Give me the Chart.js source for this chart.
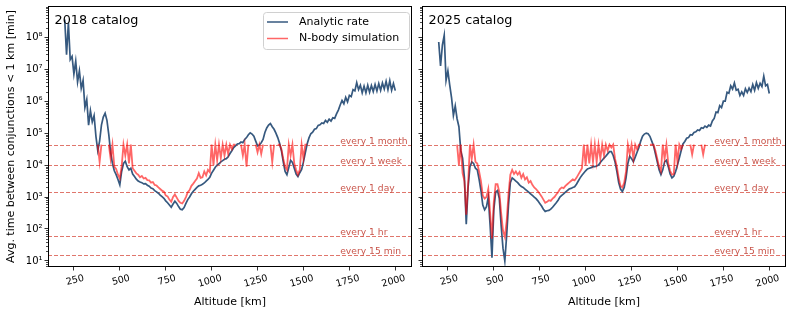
<!DOCTYPE html>
<html>
<head>
<meta charset="utf-8">
<script src="https://cdn.jsdelivr.net/npm/chart.js@4.4.1/dist/chart.umd.min.js"></script>
<style>
  body { margin: 0; background: #fff; }
  #wrap { position: relative; width: 793px; height: 315px; }
  canvas { position: absolute; top: 0; }
</style>
</head>
<body>
<div id="wrap">
  <canvas id="left" width="416" height="315" style="left:0"></canvas>
  <canvas id="right" width="377" height="315" style="left:416px"></canvas>
</div>
<script>
// altitude bins [km]
const altitudes = [
  200, 210, 220, 230, 240, 250, 260, 270, 280, 290,
  300, 310, 320, 330, 340, 350, 360, 370, 380, 390,
  400, 410, 420, 430, 440, 450, 460, 470, 480, 490,
  500, 510, 520, 530, 540, 550, 560, 570, 580, 590,
  600, 610, 620, 630, 640, 650, 660, 670, 680, 690,
  700, 710, 720, 730, 740, 750, 760, 770, 780, 790,
  800, 810, 820, 830, 840, 850, 860, 870, 880, 890,
  900, 910, 920, 930, 940, 950, 960, 970, 980, 990,
  1000, 1010, 1020, 1030, 1040, 1050, 1060, 1070, 1080, 1090,
  1100, 1110, 1120, 1130, 1140, 1150, 1160, 1170, 1180, 1190,
  1200, 1210, 1220, 1230, 1240, 1250, 1260, 1270, 1280, 1290,
  1300, 1310, 1320, 1330, 1340, 1350, 1360, 1370, 1380, 1390,
  1400, 1410, 1420, 1430, 1440, 1450, 1460, 1470, 1480, 1490,
  1500, 1510, 1520, 1530, 1540, 1550, 1560, 1570, 1580, 1590,
  1600, 1610, 1620, 1630, 1640, 1650, 1660, 1670, 1680, 1690,
  1700, 1710, 1720, 1730, 1740, 1750, 1760, 1770, 1780, 1790,
  1800, 1810, 1820, 1830, 1840, 1850, 1860, 1870, 1880, 1890,
  1900, 1910, 1920, 1930, 1940, 1950, 1960, 1970, 1980, 1990,
  2000
];

// log10 of avg. time between conjunctions [min], one row per 100 km
const log10Analytic2018 = [
  8.55, 7.45, 8.45, 7.30, 7.40, 6.85, 7.25, 6.60, 6.95, 6.40,
  6.65, 5.80, 6.05, 5.25, 5.70, 5.35, 5.55, 4.90, 4.45, 4.75,
  5.25, 5.50, 5.62, 5.40, 4.95, 4.40, 4.05, 3.82, 3.70, 3.55,
  3.38, 3.80, 4.05, 4.12, 3.95, 3.85, 3.90, 3.72, 3.64, 3.56,
  3.50, 3.47, 3.45, 3.41, 3.42, 3.37, 3.34, 3.28, 3.26, 3.20,
  3.16, 3.12, 3.06, 3.01, 2.96, 2.88, 2.82, 2.75, 2.68, 2.78,
  2.87, 2.80, 2.70, 2.62, 2.60, 2.67, 2.80, 2.92, 3.00, 3.10,
  3.18, 3.24, 3.30, 3.35, 3.37, 3.40, 3.44, 3.50, 3.55, 3.62,
  3.75, 3.84, 3.93, 4.00, 4.04, 4.10, 4.14, 4.18, 4.20, 4.26,
  4.36, 4.45, 4.55, 4.60, 4.66, 4.67, 4.72, 4.70, 4.80, 4.86,
  4.95, 5.01, 4.97, 4.90, 4.75, 4.60, 4.63, 4.70, 4.80, 5.02,
  5.16, 5.25, 5.30, 5.20, 5.12, 5.00, 4.86, 4.68, 4.45, 4.10,
  3.80, 3.70, 3.92, 4.15, 4.08, 3.90, 3.72, 3.64, 3.76, 3.86,
  4.10, 4.38, 4.66, 4.85, 4.98, 5.03, 5.12, 5.14, 5.24, 5.26,
  5.32, 5.30, 5.40, 5.34, 5.44, 5.38, 5.48, 5.46, 5.60, 5.72,
  5.88, 6.02, 5.92, 6.12, 5.98, 6.18, 6.14, 6.36, 6.32, 6.58,
  6.36, 6.50, 6.26, 6.47, 6.26, 6.50, 6.28, 6.49, 6.30, 6.52,
  6.32, 6.55, 6.34, 6.57, 6.38, 6.62, 6.36, 6.64, 6.34, 6.55,
  6.33
];

const log10NBody2018 = [
  null, null, null, null, null, null, null, null, null, null,
  null, null, null, null, null, null, null, null, 4.64, 4.10,
  4.64, null, null, null, 4.64, 4.20, 4.64, 3.95, 3.88, 3.70,
  3.58, 3.95, 4.64, 4.30, 4.64, 4.05, 4.64, 3.90, 3.82, 3.74,
  3.70, 3.62, 3.66, 3.58, 3.60, 3.53, 3.52, 3.45, 3.47, 3.38,
  3.36, 3.30, 3.25, 3.20, 3.17, 3.05, 3.02, 2.92, 2.85, 3.00,
  3.08, 2.98, 2.88, 2.82, 2.80, 2.88, 3.00, 3.15, 3.22, 3.35,
  3.42, 3.50, 3.58, 3.75, 3.60, 3.62, 3.80, 3.68, 3.85, 3.78,
  4.64, 4.00, 4.64, 4.15, 4.64, 4.22, 4.64, 4.30, 4.64, 4.35,
  4.64, 4.50, 4.64, 4.64, null, null, 4.64, 4.30, 4.64, 3.95,
  4.64, null, null, null, 4.64, 4.40, 4.64, 4.35, 4.64, null,
  null, null, 4.64, 4.10, 4.64, null, 4.64, 4.64, 4.50, 4.20,
  3.95, 3.85, 4.64, 4.30, 4.64, 4.05, 3.85, 3.70, 3.85, 4.64,
  4.20, 4.64, 4.64, null, null, null, null, null, null, null,
  null, null, null, null, null, null, null, null, null, null,
  null, null, null, null, null, null, null, null, null, null,
  null, null, null, null, null, null, null, null, null, null,
  null, null, null, null, null, null, null, null, null, null,
  null
];

const log10Analytic2025 = [
  7.85, 7.10, 7.75, 8.06, 6.65, 6.95, 6.50, 6.10, 5.55, 5.85,
  5.45, 5.20, 4.45, 4.22, 3.60, 2.15, 3.30, 3.95, 4.10, 4.05,
  3.90, 3.85, 3.55, 3.20, 2.75, 2.60, 2.70, 3.00, 2.10, 1.10,
  2.60, 3.15, 3.20, 2.95, 2.10, 1.40, 1.00, 1.80, 2.75, 3.45,
  3.60, 3.55, 3.50, 3.45, 3.38, 3.33, 3.30, 3.25, 3.20, 3.15,
  3.10, 3.05, 3.00, 2.95, 2.88, 2.80, 2.72, 2.62, 2.55, 2.57,
  2.58, 2.62, 2.68, 2.75, 2.82, 2.90, 3.00, 3.05, 3.10, 3.15,
  3.20, 3.25, 3.27, 3.30, 3.32, 3.40, 3.50, 3.60, 3.68, 3.75,
  3.82, 3.88, 3.90, 3.92, 3.95, 3.95, 3.97, 4.00, 4.08, 4.15,
  4.22, 4.28, 4.35, 4.42, 4.42, 4.30, 4.10, 3.80, 3.45, 3.25,
  3.17, 3.30, 3.60, 4.05, 4.28, 4.20, 4.10, 4.25, 4.40, 4.55,
  4.75, 4.90, 4.97, 5.00, 4.98, 4.90, 4.75, 4.60, 4.35, 4.10,
  3.85, 3.70, 3.85, 4.10, 4.15, 3.95, 3.72, 3.60, 3.65, 3.80,
  4.00, 4.22, 4.45, 4.66, 4.74, 4.84, 4.86, 4.95, 4.94, 5.02,
  5.04, 5.10, 5.08, 5.17, 5.15, 5.22, 5.18, 5.25, 5.22, 5.38,
  5.46, 5.66, 5.64, 5.86, 5.80, 6.00, 6.00, 6.28, 6.25, 6.48,
  6.38, 6.57, 6.34, 6.37, 6.18, 6.29, 6.18, 6.39, 6.27, 6.41,
  6.30, 6.52, 6.34, 6.58, 6.40, 6.56, 6.46, 6.78, 6.48, 6.52,
  6.24
];

const log10NBody2025 = [
  null, null, null, null, null, null, null, null, null, null,
  4.64, 4.00, 4.64, 3.75, 3.50, 2.45, 3.40, 4.64, 4.20, 4.64,
  4.10, 4.05, 3.80, 3.50, 3.05, 2.95, 3.00, 3.25, 2.50, 1.70,
  2.85, 3.40, 3.40, 3.15, 2.50, 1.95, 1.75, 2.25, 3.10, 3.70,
  3.85, 3.72, 3.80, 3.70, 3.78, 3.60, 3.72, 3.55, 3.62, 3.45,
  3.50, 3.38, 3.30, 3.25, 3.18, 3.10, 3.02, 2.92, 2.82, 2.85,
  2.90, 2.88, 2.95, 3.00, 3.08, 3.15, 3.25, 3.30, 3.28, 3.35,
  3.40, 3.45, 3.50, 3.55, 3.52, 3.60, 3.70, 3.80, 3.90, 4.64,
  4.00, 4.64, 4.05, 4.64, 4.10, 4.64, 4.10, 4.64, 4.20, 4.64,
  4.30, 4.64, 4.45, 4.64, 4.55, 4.64, 4.20, 3.95, 3.60, 3.35,
  3.30, 3.45, 3.80, 4.64, 4.35, 4.64, 4.20, 4.64, 4.50, 4.64,
  4.64, null, null, null, null, 4.64, 4.64, 4.64, 4.45, 4.20,
  3.95, 3.80, 4.64, 4.20, 4.64, 4.05, 3.82, 3.70, 3.72, 4.64,
  4.10, 4.64, 4.50, 4.64, null, null, null, 4.64, 4.33, 4.64,
  null, null, null, 4.64, 4.33, 4.64, null, null, null, null,
  null, null, null, null, null, null, null, null, null, null,
  null, null, null, null, null, null, null, null, null, null,
  null, null, null, null, null, null, null, null, null, null,
  null
];

const altitudeTicks = [250, 500, 750, 1000, 1250, 1500, 1750, 2000];
const cadenceMinutes = [43200, 10080, 1440, 60, 15];
const cadenceLabels = ['every 1 month', 'every 1 week', 'every 1 day', 'every 1 hr', 'every 15 min'];
const cadenceLabelAlt = 1700;

const FONT = 'DejaVu Sans';
const BLUE = '#36597f';
const RED = 'rgba(255, 0, 0, 0.6)';
const LINE_RED = '#e0766c';
const TEXT_RED = '#c9564c';
const SUPS = '⁰¹²³⁴⁵⁶⁷⁸⁹';

function toPoints(logs) {
  return altitudes.map((a, i) => ({ x: a, y: logs[i] == null ? null : Math.pow(10, logs[i]) }));
}

function isPow10(v) {
  const e = Math.round(Math.log10(v));
  return Math.abs(v - Math.pow(10, e)) < 1e-6 * v;
}

function zeroPad(s) {
  s.paddingTop = 0; s.paddingBottom = 0; s.paddingLeft = 0; s.paddingRight = 0;
}

const panelPlugin = {
  id: 'panel',
  beforeDatasetsDraw(chart) {
    const { ctx, chartArea: a, scales: { x, y } } = chart;
    ctx.save();
    ctx.beginPath();
    ctx.rect(a.left, a.top, a.width, a.height);
    ctx.clip();
    ctx.lineWidth = 1;
    ctx.setLineDash([4, 2]);
    ctx.strokeStyle = LINE_RED;
    ctx.fillStyle = TEXT_RED;
    ctx.font = '9.2px ' + FONT;
    ctx.textBaseline = 'alphabetic';
    cadenceMinutes.forEach((m, i) => {
      const py = Math.round(y.getPixelForValue(m)) + 0.5;
      ctx.beginPath();
      ctx.moveTo(a.left, py);
      ctx.lineTo(a.right, py);
      ctx.stroke();
      ctx.fillText(cadenceLabels[i], x.getPixelForValue(cadenceLabelAlt), py - 1.5);
    });
    ctx.restore();
  },
  afterDraw(chart, args, opts) {
    const { ctx, chartArea: a, scales: { y } } = chart;
    ctx.save();
    // minor y ticks, shorter than the major ones
    ctx.strokeStyle = '#000';
    ctx.lineWidth = 0.7;
    y.ticks.forEach(t => {
      if (isPow10(t.value)) return;
      const py = Math.round(y.getPixelForValue(t.value)) + 0.5;
      ctx.beginPath();
      ctx.moveTo(a.left - 2, py);
      ctx.lineTo(a.left, py);
      ctx.stroke();
    });
    // frame
    ctx.lineWidth = 1;
    ctx.strokeRect(Math.round(a.left) + 0.5, Math.round(a.top) + 0.5,
      Math.round(a.width) - 1, Math.round(a.height) - 1);
    // panel title
    ctx.fillStyle = '#000';
    ctx.font = '12.8px ' + FONT;
    ctx.textBaseline = 'alphabetic';
    ctx.fillText(opts.title, a.left + 6.5, a.top + 17.5);
    // legend
    if (opts.legend) {
      const bx = a.right - 149, by = a.top + 6, bw = 146, bh = 37;
      ctx.beginPath();
      ctx.roundRect(bx + 0.5, by + 0.5, bw, bh, 3);
      ctx.fillStyle = 'rgba(255,255,255,0.8)';
      ctx.fill();
      ctx.strokeStyle = '#d0d0d0';
      ctx.stroke();
      ctx.font = '11px ' + FONT;
      ctx.textBaseline = 'middle';
      chart.data.datasets.forEach((ds, i) => {
        const ly = by + 10 + i * 16.5;
        ctx.beginPath();
        ctx.moveTo(bx + 4, ly);
        ctx.lineTo(bx + 25, ly);
        ctx.strokeStyle = ds.borderColor;
        ctx.lineWidth = 1.5;
        ctx.stroke();
        ctx.fillStyle = '#000';
        ctx.fillText(ds.label, bx + 36, ly);
      });
    }
    ctx.restore();
  }
};

function makeChart(id, title, analytic, nbody, isLeft) {
  return new Chart(document.getElementById(id), {
    type: 'line',
    data: {
      datasets: [
        { label: 'Analytic rate', data: toPoints(analytic), borderColor: BLUE, borderWidth: 1.7, order: 1 },
        { label: 'N-body simulation', data: toPoints(nbody), borderColor: RED, borderWidth: 1.8, order: 0 }
      ]
    },
    options: {
      responsive: false,
      animation: false,
      devicePixelRatio: 1,
      layout: { padding: { top: 6, right: isLeft ? 4 : 7, left: 0, bottom: 0 } },
      elements: { point: { radius: 0 }, line: { tension: 0 } },
      plugins: {
        legend: { display: false },
        tooltip: { enabled: false },
        panel: { title: title, legend: isLeft }
      },
      scales: {
        x: {
          type: 'linear',
          min: 109,
          max: 2091,
          afterBuildTicks: s => { s.ticks = altitudeTicks.map(v => ({ value: v })); },
          afterFit: s => { s.height = 48; zeroPad(s); },
          border: { display: false },
          grid: { drawOnChartArea: false, tickLength: 3.5, tickColor: '#000', tickWidth: 0.8 },
          ticks: {
            minRotation: 15, maxRotation: 15, labelOffset: 10, padding: 2,
            autoSkip: false, color: '#000', font: { family: FONT, size: 9.5 },
            callback: v => String(v)
          },
          title: {
            display: true, text: 'Altitude [km]', color: '#000',
            font: { family: FONT, size: 11 }, padding: { top: 0, bottom: 6 }
          }
        },
        y: {
          type: 'logarithmic',
          min: 6.46,
          max: 9.5e8,
          afterBuildTicks: s => {
            const t = [];
            for (let e = 0; e <= 8; e++) {
              for (let m = 1; m <= 9; m++) {
                const v = m * Math.pow(10, e);
                if (v >= s.min && v <= s.max) t.push({ value: v });
              }
            }
            s.ticks = t;
          },
          afterFit: s => { s.width = isLeft ? 48 : 6; zeroPad(s); },
          border: { display: false },
          grid: {
            drawOnChartArea: false, tickLength: 3.5, tickWidth: 0.8,
            tickColor: c => (c.tick && isPow10(c.tick.value)) ? '#000' : 'rgba(0,0,0,0)'
          },
          ticks: {
            display: isLeft, autoSkip: false, padding: 2, color: '#000',
            font: { family: FONT, size: 10 },
            callback: v => {
              if (!isPow10(v)) return '';
              const e = Math.round(Math.log10(v));
              return '10' + String(e).split('').map(d => SUPS[+d]).join('');
            }
          },
          title: {
            display: isLeft, text: 'Avg. time between conjunctions < 1 km [min]', color: '#000',
            font: { family: FONT, size: 11 }, padding: { top: 5, bottom: 0 }
          }
        }
      }
    },
    plugins: [panelPlugin]
  });
}

makeChart('left', '2018 catalog', log10Analytic2018, log10NBody2018, true);
makeChart('right', '2025 catalog', log10Analytic2025, log10NBody2025, false);
</script>
</body>
</html>
